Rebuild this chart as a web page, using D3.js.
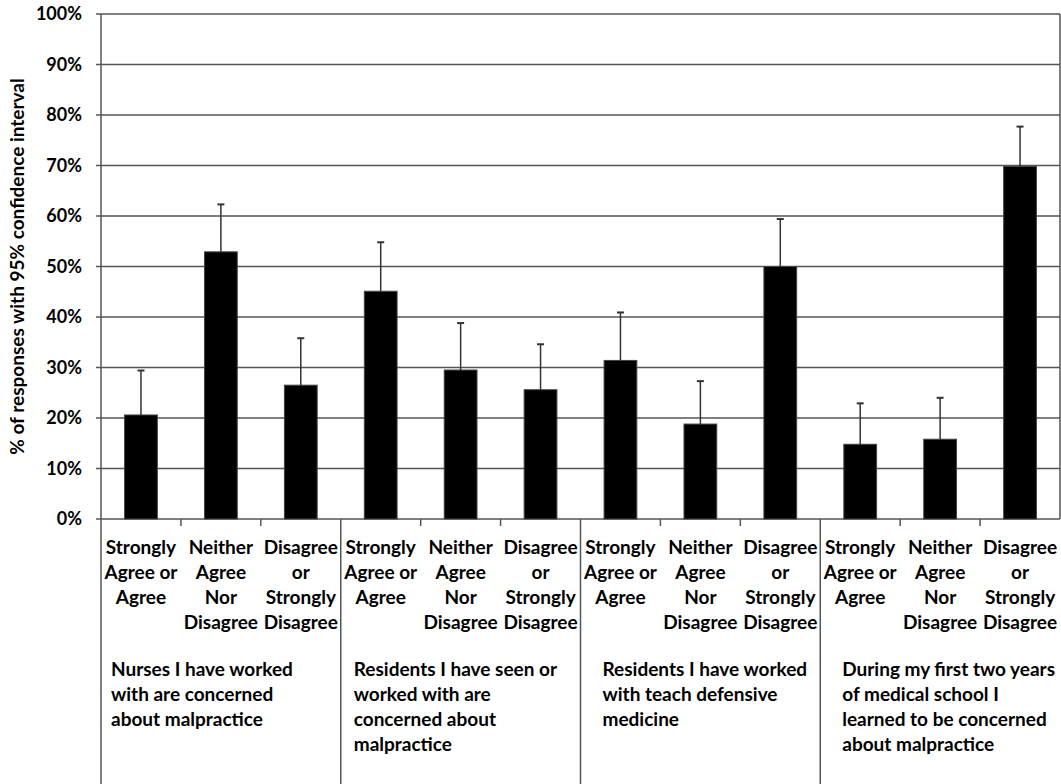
<!DOCTYPE html>
<html><head><meta charset="utf-8">
<script src="https://cdn.jsdelivr.net/npm/d3@7"></script>
<style>
body{margin:0;background:#fff;}
text{font-family:Lato,"Open Sans",sans-serif;font-weight:bold;fill:#000;}
</style></head>
<body><svg id="c" width="1061" height="784"></svg>
<script>
// ---- data ----
const groups = [
  ["Nurses I have worked","with are concerned","about malpractice"],
  ["Residents I have seen or","worked with are","concerned about","malpractice"],
  ["Residents I have worked","with teach defensive","medicine"],
  ["During my first two years","of medical school I","learned to be concerned","about malpractice"]
];
const responseLabels = [
  ["Strongly","Agree or","Agree"],
  ["Neither","Agree","Nor","Disagree"],
  ["Disagree","or","Strongly","Disagree"]
];
const values =    [20.6, 52.9, 26.5, 45.1, 29.5, 25.6, 31.4, 18.8, 50.0, 14.8, 15.8, 69.8];
const upperCI =   [29.4, 62.3, 35.8, 54.8, 38.8, 34.6, 40.9, 27.3, 59.4, 22.9, 24.0, 77.7];
const yTicks = [0,10,20,30,40,50,60,70,80,90,100];
const yTitle = "% of responses with 95% confidence interval";

// ---- layout ----
const pLeft = 101, pRight = 1060, pTop = 14, pBottom = 519, H = 784;
const groupLabelOffset = [10, 13, 22, 22];
const lineColor = "#555";

const cats = d3.range(values.length);
const svg = d3.select("#c");
const x = d3.scaleBand().domain(cats).range([pLeft, pRight]).padding(0);
const y = d3.scaleLinear().domain([0,100]).range([pBottom, pTop]);
const bw = x.bandwidth()*0.41;

// gridlines + ticks
svg.append("g").selectAll("line").data(yTicks).join("line")
  .attr("x1", pLeft-5).attr("x2", pRight)
  .attr("y1", d=>y(d)).attr("y2", d=>y(d))
  .attr("stroke", lineColor).attr("stroke-width", 1.5);

// y axis labels via d3 axis
const yAxis = svg.append("g").attr("transform", `translate(${pLeft},0)`)
  .call(d3.axisLeft(y).tickValues(yTicks).tickFormat(d=>d+"%").tickSize(0).tickPadding(19));
yAxis.select(".domain").remove();
yAxis.selectAll("text").attr("font-size", 18).attr("font-family","Lato").attr("font-weight","bold").attr("fill","#000");

// left axis line down to bottom, right border
svg.append("line").attr("x1",pLeft).attr("x2",pLeft).attr("y1",pTop).attr("y2",H)
  .attr("stroke",lineColor).attr("stroke-width",1.5);
svg.append("line").attr("x1",pRight).attr("x2",pRight).attr("y1",pTop).attr("y2",pBottom)
  .attr("stroke",lineColor).attr("stroke-width",1.5);

// category ticks and group dividers
cats.slice(1).forEach(i=>{
  const xx = x(i);
  const isGroup = i % 3 === 0;
  svg.append("line").attr("x1",xx).attr("x2",xx).attr("y1",pBottom).attr("y2", isGroup ? H : pBottom+7)
    .attr("stroke",lineColor).attr("stroke-width",1.5);
});

// bars
svg.append("g").selectAll("rect").data(values).join("rect")
  .attr("x",(d,i)=>x(i)+x.bandwidth()/2-bw/2)
  .attr("width",bw)
  .attr("y",d=>y(d)).attr("height",d=>pBottom-y(d))
  .attr("fill","#000").attr("stroke","#444").attr("stroke-width",1);

// error bars (upper)
const eb = svg.append("g");
values.forEach((v,i)=>{
  const cx = x(i)+x.bandwidth()/2;
  eb.append("line").attr("x1",cx).attr("x2",cx).attr("y1",y(v)).attr("y2",y(upperCI[i]))
    .attr("stroke","#333").attr("stroke-width",1.5);
  eb.append("line").attr("x1",cx-3.5).attr("x2",cx+3.5).attr("y1",y(upperCI[i])).attr("y2",y(upperCI[i]))
    .attr("stroke","#333").attr("stroke-width",2);
});

// category labels
cats.forEach(i=>{
  const lines = responseLabels[i%3];
  const t = svg.append("text").attr("text-anchor","middle").attr("font-size",19);
  lines.forEach((l,k)=>{
    t.append("tspan").attr("x", x(i)+x.bandwidth()/2).attr("y", 554 + k*25).text(l);
  });
});

// group labels
groups.forEach((g,gi)=>{
  const gx = x(gi*3) + groupLabelOffset[gi];
  const t = svg.append("text").attr("text-anchor","start").attr("font-size",19);
  g.forEach((l,k)=>{
    t.append("tspan").attr("x", gx).attr("y", 676 + k*25).text(l);
  });
});

// y title
svg.append("text").attr("transform",`translate(24,${(pTop+pBottom)/2}) rotate(-90)`)
  .attr("text-anchor","middle").attr("font-size",19).text(yTitle);
</script></body></html>
